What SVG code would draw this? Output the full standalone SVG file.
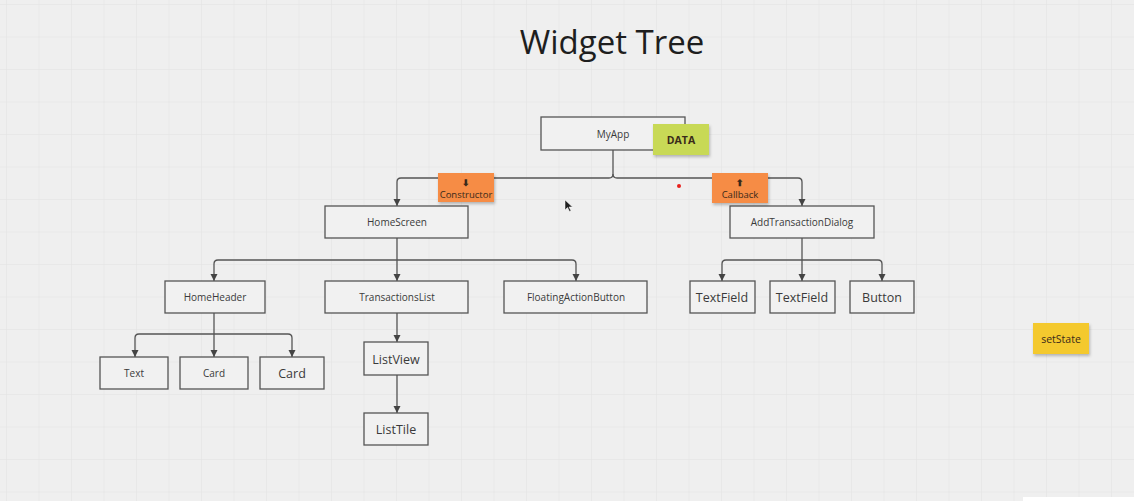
<svg xmlns="http://www.w3.org/2000/svg" width="1134" height="501" viewBox="0 0 1134 501">
<defs>
<pattern id="grid" x="7" y="5" width="32.5" height="32.5" patternUnits="userSpaceOnUse">
<path d="M32.5 0V32.5M0 32.5H32.5" fill="none" stroke="#e2e2e2" stroke-width="1"/>
</pattern>
<marker id="ah" viewBox="0 0 8 8" refX="8" refY="4" markerWidth="8" markerHeight="8" markerUnits="userSpaceOnUse" orient="auto">
<path d="M1 0.5L8 4L1 7.5Z" fill="#444"/>
</marker>
<filter id="sh" x="-20%" y="-20%" width="150%" height="160%">
<feDropShadow dx="1" dy="2" stdDeviation="1.5" flood-color="#000" flood-opacity="0.25"/>
</filter>
</defs>
<style>
.box{fill:#f1f1f1;stroke:#555;stroke-width:1.3}
.lbl{font-family:"Open Sans","Noto Sans",sans-serif;font-size:10px;fill:#3a3a3a;text-anchor:middle;dominant-baseline:central}
.big{font-size:12.5px}
.con{fill:none;stroke:#555;stroke-width:1.3}
.note{font-family:"Open Sans","Noto Sans",sans-serif;fill:#3a2a1a;text-anchor:middle;dominant-baseline:central}
</style>
<rect width="1134" height="501" fill="#efefef"/>
<rect width="1134" height="501" fill="url(#grid)"/>
<rect x="1023" y="497" width="111" height="4" fill="#fff"/>
<text x="612" y="41" font-family="'Open Sans','Noto Sans',sans-serif" font-size="33" fill="#1e1e1e" text-anchor="middle" dominant-baseline="central">Widget Tree</text>

<g id="connectors">
<path class="con" d="M613 150V174Q613 178 609 178H401Q397 178 397 182V206" marker-end="url(#ah)"/>
<path class="con" d="M613 174Q613 178 617 178H798Q802 178 802 182V206" marker-end="url(#ah)"/>
<path class="con" d="M397 238V281" marker-end="url(#ah)"/>
<path class="con" d="M397 260H218Q214 260 214 264V281" marker-end="url(#ah)"/>
<path class="con" d="M397 260H572Q576 260 576 264V281" marker-end="url(#ah)"/>
<path class="con" d="M802 238V281" marker-end="url(#ah)"/>
<path class="con" d="M802 260H726Q722 260 722 264V281" marker-end="url(#ah)"/>
<path class="con" d="M802 260H878Q882 260 882 264V281" marker-end="url(#ah)"/>
<path class="con" d="M214 313V357" marker-end="url(#ah)"/>
<path class="con" d="M214 334H139Q135 334 135 338V357" marker-end="url(#ah)"/>
<path class="con" d="M214 334H288Q292 334 292 338V357" marker-end="url(#ah)"/>
<path class="con" d="M397 313V342" marker-end="url(#ah)"/>
<path class="con" d="M397 375V413" marker-end="url(#ah)"/>
</g>

<g id="myapp"><rect class="box" x="541" y="117" width="144" height="33"/><text class="lbl" x="613" y="134">MyApp</text></g>
<g id="data"><rect x="653" y="124" width="56" height="31" fill="#c8d957" filter="url(#sh)"/><text class="note" x="681" y="140" font-size="10.5" font-weight="bold" fill="#222">DATA</text></g>

<g id="homescreen"><rect class="box" x="325" y="206" width="143" height="32"/><text class="lbl" x="397" y="222">HomeScreen</text></g>
<g id="addtransactiondialog"><rect class="box" x="730" y="206" width="144" height="32"/><text class="lbl" x="802" y="222">AddTransactionDialog</text></g>

<g id="constructor"><rect x="438" y="173" width="56" height="29" fill="#f68c45" filter="url(#sh)"/><text class="note" x="466" y="182" font-size="9" font-weight="bold" fill="#222">⬇</text><text class="note" x="466" y="194" font-size="9.5">Constructor</text></g>
<g id="callback"><rect x="712" y="173" width="56" height="30" fill="#f68c45" filter="url(#sh)"/><text class="note" x="740" y="182" font-size="9" font-weight="bold" fill="#222">⬆</text><text class="note" x="740" y="194" font-size="9.5">Callback</text></g>

<g id="homeheader"><rect class="box" x="165" y="281" width="100" height="32"/><text class="lbl" x="215" y="297">HomeHeader</text></g>
<g id="transactionslist"><rect class="box" x="325" y="281" width="143" height="32"/><text class="lbl" x="397" y="297">TransactionsList</text></g>
<g id="floatingactionbutton"><rect class="box" x="504" y="281" width="143" height="32"/><text class="lbl" x="576" y="297">FloatingActionButton</text></g>

<g id="textfield1"><rect class="box" x="690" y="281" width="65" height="32"/><text class="lbl big" x="722" y="297">TextField</text></g>
<g id="textfield2"><rect class="box" x="770" y="281" width="65" height="32"/><text class="lbl big" x="802" y="297">TextField</text></g>
<g id="button"><rect class="box" x="850" y="281" width="64" height="32"/><text class="lbl big" x="882" y="297">Button</text></g>

<g id="text"><rect class="box" x="100" y="357" width="68" height="32"/><text class="lbl" x="134" y="373">Text</text></g>
<g id="card1"><rect class="box" x="180" y="357" width="68" height="32"/><text class="lbl" x="214" y="373">Card</text></g>
<g id="card2"><rect class="box" x="260" y="357" width="64" height="32"/><text class="lbl big" x="292" y="373">Card</text></g>

<g id="listview"><rect class="box" x="364" y="342" width="64" height="33"/><text class="lbl big" x="396" y="359">ListView</text></g>
<g id="listtile"><rect class="box" x="364" y="413" width="64" height="32"/><text class="lbl big" x="396" y="429">ListTile</text></g>

<g id="setstate"><rect x="1033" y="323" width="56" height="31" fill="#f4c92f" filter="url(#sh)"/><text class="note" x="1061" y="339" font-size="10.5">setState</text></g>

<circle cx="679" cy="186" r="2" fill="#e8201c"/>
<path d="M565 200L565 210L567.5 207.5L569.5 211.5L571 210.8L569 207L572.5 207Z" fill="#222" stroke="#fff" stroke-width="0.5"/>
</svg>
